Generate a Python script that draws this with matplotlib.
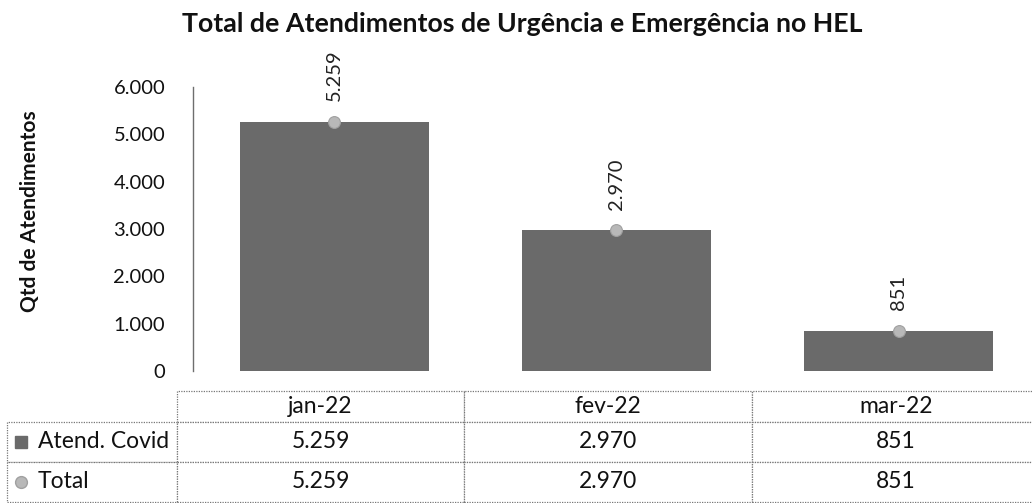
import numpy as np
import matplotlib
matplotlib.use("Agg")
import matplotlib.pyplot as plt

plt.rcParams['font.family'] = ['Lato', 'DejaVu Sans']

# ---- data ----
months = ["jan-22", "fev-22", "mar-22"]
atend_covid = [5259, 2970, 851]
total = [5259, 2970, 851]
series_names = ["Atend. Covid", "Total"]
y_ticks = [0, 1000, 2000, 3000, 4000, 5000, 6000]


def fmt_br(v):
    # thousands separator as in pt-BR
    return f"{v:,.0f}".replace(",", ".")


BAR_COLOR = "#6a6a6a"
DOT_COLOR = "#b8b8b8"
LINE_COLOR = "#6e6e6e"

W, H = 1032, 503
fig = plt.figure(figsize=(W / 100, H / 100), dpi=100)

# axes placed in pixel terms of the reference
ax_l, ax_r, ax_b, ax_t = 193, 1032, 371, 87
AW, AH = ax_r - ax_l, ax_b - ax_t
ax = fig.add_axes([ax_l / W, (H - ax_b) / H, AW / W, AH / H])

x = np.arange(len(months))
ax.bar(x, atend_covid, width=0.67, color=BAR_COLOR, zorder=2)
ax.plot(x, total, ls="none", marker="o", ms=8.5, mfc=DOT_COLOR, mec="#a0a0a0",
        mew=0.8, zorder=3)

for xi, v in zip(x, total):
    ax.annotate(fmt_br(v), (xi, v), xytext=(0, 15), textcoords="offset points",
                rotation=90, ha="center", va="bottom", fontsize=14.5, color="#222222")

ax.set_xlim(-0.5, 2.5 - 8 / 282.5)
ax.set_ylim(0, 6000)
ax.set_yticks(y_ticks)
ax.set_yticklabels([fmt_br(v) for v in y_ticks], fontsize=14.5, color="#111111")
ax.tick_params(axis="y", length=0, pad=20)
ax.set_xticks([])
for side in ["top", "right", "bottom"]:
    ax.spines[side].set_visible(False)
ax.spines["left"].set_color(LINE_COLOR)
ax.spines["left"].set_linewidth(1.0)

fig.text(0.029, 0.5805, "Qtd de Atendimentos", rotation=90, ha="center", va="center",
         fontsize=15, fontweight="bold", color="#111111")
fig.text(0.506, (H - 32) / H, "Total de Atendimentos de Urgência e Emergência no HEL",
         ha="center", va="baseline", fontsize=19.3, fontweight="bold", color="#111111")

# ---- data table below the plot ----
cell_text = [[fmt_br(v) for v in atend_covid], [fmt_br(v) for v in total]]
# sizes in axes fractions so the bbox does not rescale anything
tb_l, tb_r, tb_t, tb_b = 177, 1040, 391, 502
col_w = [287 / AW, 288 / AW, 288 / AW]
bbox = [(tb_l - ax_l) / AW, (ax_b - tb_b) / AH, (tb_r - tb_l) / AW, (tb_b - tb_t) / AH]
table = ax.table(cellText=cell_text, rowLabels=series_names, colLabels=months,
                 cellLoc="center", rowLoc="left", colWidths=col_w, bbox=bbox)
table._autoColumns = []   # keep a fixed row-label column width
table.auto_set_font_size(False)
table.set_fontsize(16.5)
for (r, c), cell in table.get_celld().items():
    cell.set_edgecolor("#777777")
    cell.set_linestyle((0, (1, 1)))
    cell.set_linewidth(0.9)
    cell.set_height((31 if r == 0 else 40) / AH)
    if c == -1:
        cell.set_width(170 / AW)
        cell.PAD = 0.18   # leave room for the legend key
    cell.get_text().set_color("#111111")

# legend keys in front of the row labels
key_x = (21 - ax_l) / AW
row1_y = (ax_b - 442) / AH
row2_y = (ax_b - 482) / AH
ax.plot([key_x], [row1_y], marker="s", ms=8, color=BAR_COLOR, transform=ax.transAxes,
        clip_on=False)
ax.plot([key_x], [row2_y], marker="o", ms=8.5, mfc=DOT_COLOR, mec="#a0a0a0",
        transform=ax.transAxes, clip_on=False)

fig.savefig("out.png", dpi=100)
